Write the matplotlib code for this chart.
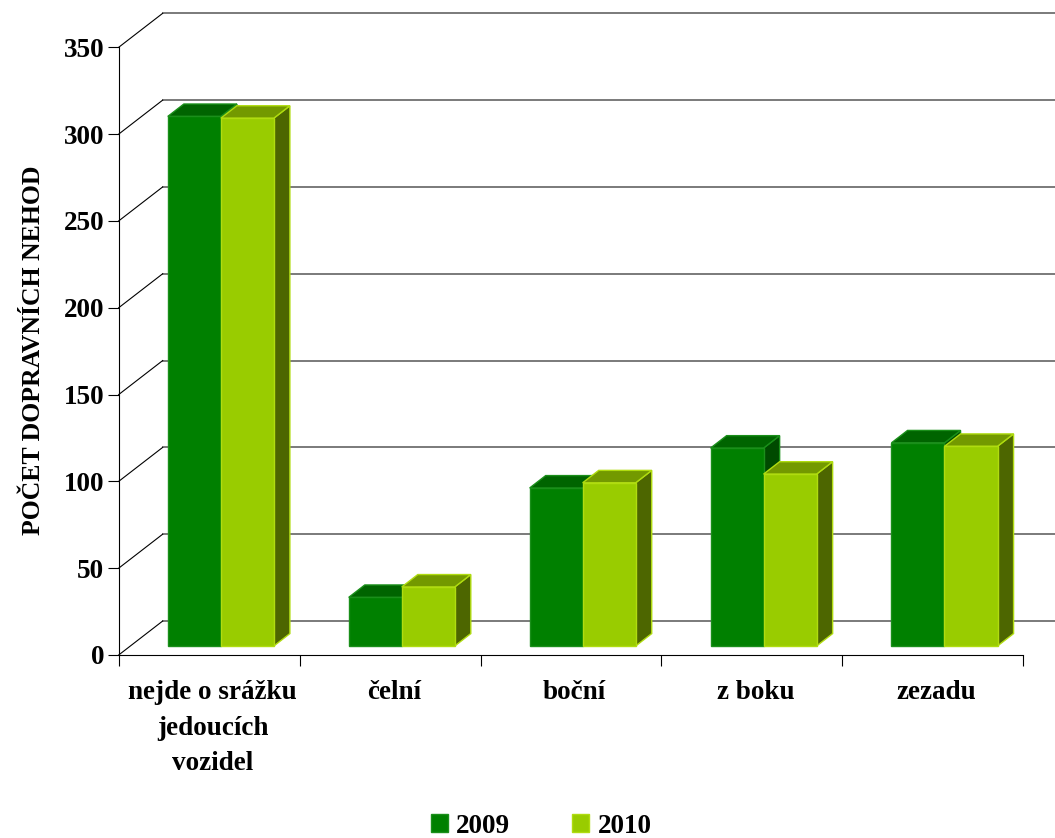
import numpy as np
import matplotlib
matplotlib.use('Agg')
import matplotlib.pyplot as plt
from matplotlib.patches import Polygon

plt.rcParams['font.family'] = ['Liberation Serif', 'DejaVu Serif']
plt.rcParams['font.weight'] = 'bold'

categories = ['nejde o srážku\njedoucích\nvozidel', 'čelní', 'boční', 'z boku', 'zezadu']
years = ['2009', '2010']
values_2009 = [305, 28, 91, 114, 117]
values_2010 = [304, 34, 94, 99, 115]
y_ticks = [0, 50, 100, 150, 200, 250, 300, 350]
y_label = 'POČET DOPRAVNÍCH NEHOD'

front_colors = ['#008000', '#99cc00']
top_colors = ['#006400', '#739900']
side_colors = ['#004a00', '#4d6600']
edge_colors = ['#1a8f1a', '#b0dc10']

W, H = 1055, 838
fig = plt.figure(figsize=(W / 100, H / 100), dpi=100)
# front plane of the chart box, in pixels
x0, x1 = 118.7, 1023.3
y0, y1 = 655.0, 47.3
ax = fig.add_axes([x0 / W, 1 - y0 / H, (x1 - x0) / W, (y0 - y1) / H])
ax.set_xlim(0, len(categories))
ax.set_ylim(0, 350)

# depth vector of the oblique projection, in data units
px_x = (x1 - x0) / len(categories)
px_y = (y0 - y1) / 350
DX, DY = 44 / px_x, 34 / px_y
f_front, f_back = 0.265, 0.63
bar_w = 0.293

# walls: grid on the back wall, diagonals on the left wall
for v in y_ticks:
    ax.plot([DX, len(categories) + DX + 1], [v + DY, v + DY], color='#7a7a7a',
            lw=1.4, clip_on=False, zorder=1)
    ax.plot([0, DX], [v, v + DY], color='black', lw=0.8, clip_on=False, zorder=1)

base = f_front * DY
ddx, ddy = (f_back - f_front) * DX, (f_back - f_front) * DY
centers = np.arange(len(categories)) + 0.5 + f_front * DX

for i, c in enumerate(centers):
    for j, vals in enumerate([values_2009, values_2010]):
        v = vals[i]
        xl = c - bar_w + j * bar_w
        xr = xl + bar_w
        top = base + v
        z = 3 + 3 * j
        side = Polygon([(xr, base), (xr, top), (xr + ddx, top + ddy), (xr + ddx, base + ddy)],
                       closed=True, fc=side_colors[j], ec=edge_colors[j], lw=1,
                       clip_on=False, zorder=z)
        lid = Polygon([(xl, top), (xr, top), (xr + ddx, top + ddy), (xl + ddx, top + ddy)],
                      closed=True, fc=top_colors[j], ec=edge_colors[j], lw=1,
                      clip_on=False, zorder=z)
        ax.add_patch(side)
        ax.add_patch(lid)

bars = []
for j, vals in enumerate([values_2009, values_2010]):
    b = ax.bar(centers - bar_w + j * bar_w, vals, width=bar_w, bottom=base, align='edge',
               color=front_colors[j], edgecolor=edge_colors[j], lw=1,
               label=years[j], zorder=5 + 3 * j, clip_on=False)
    bars.append(b)

for s in ['top', 'right']:
    ax.spines[s].set_visible(False)
for s in ['left', 'bottom']:
    ax.spines[s].set_linewidth(0.8)
    ax.spines[s].set_zorder(2)

ax.set_yticks(y_ticks)
ax.set_yticklabels([str(t) for t in y_ticks], fontsize=19.5, fontweight='bold')
ax.set_xticks(range(len(categories) + 1))
ax.set_xticklabels([])
ax.tick_params(axis='both', direction='out', length=8, width=0.8, pad=2.5)

for i, name in enumerate(categories):
    ax.text(i + 0.52, -14.5, name, ha='center', va='top', multialignment='center',
            fontsize=19.5, fontweight='bold', linespacing=1.55)

fig.text(34 / W, 1 - 350 / H, y_label, rotation=90, ha='center', va='center',
         fontsize=18.5, fontweight='bold')

fig.legend(handles=bars, labels=years, loc='center', bbox_to_anchor=(541 / W, 1 - 826 / H),
           ncol=2, frameon=False, fontsize=19.5, handlelength=0.63, handleheight=0.63,
           handletextpad=0.3, columnspacing=2.3, borderpad=0)

fig.savefig('out.png', dpi=100)
